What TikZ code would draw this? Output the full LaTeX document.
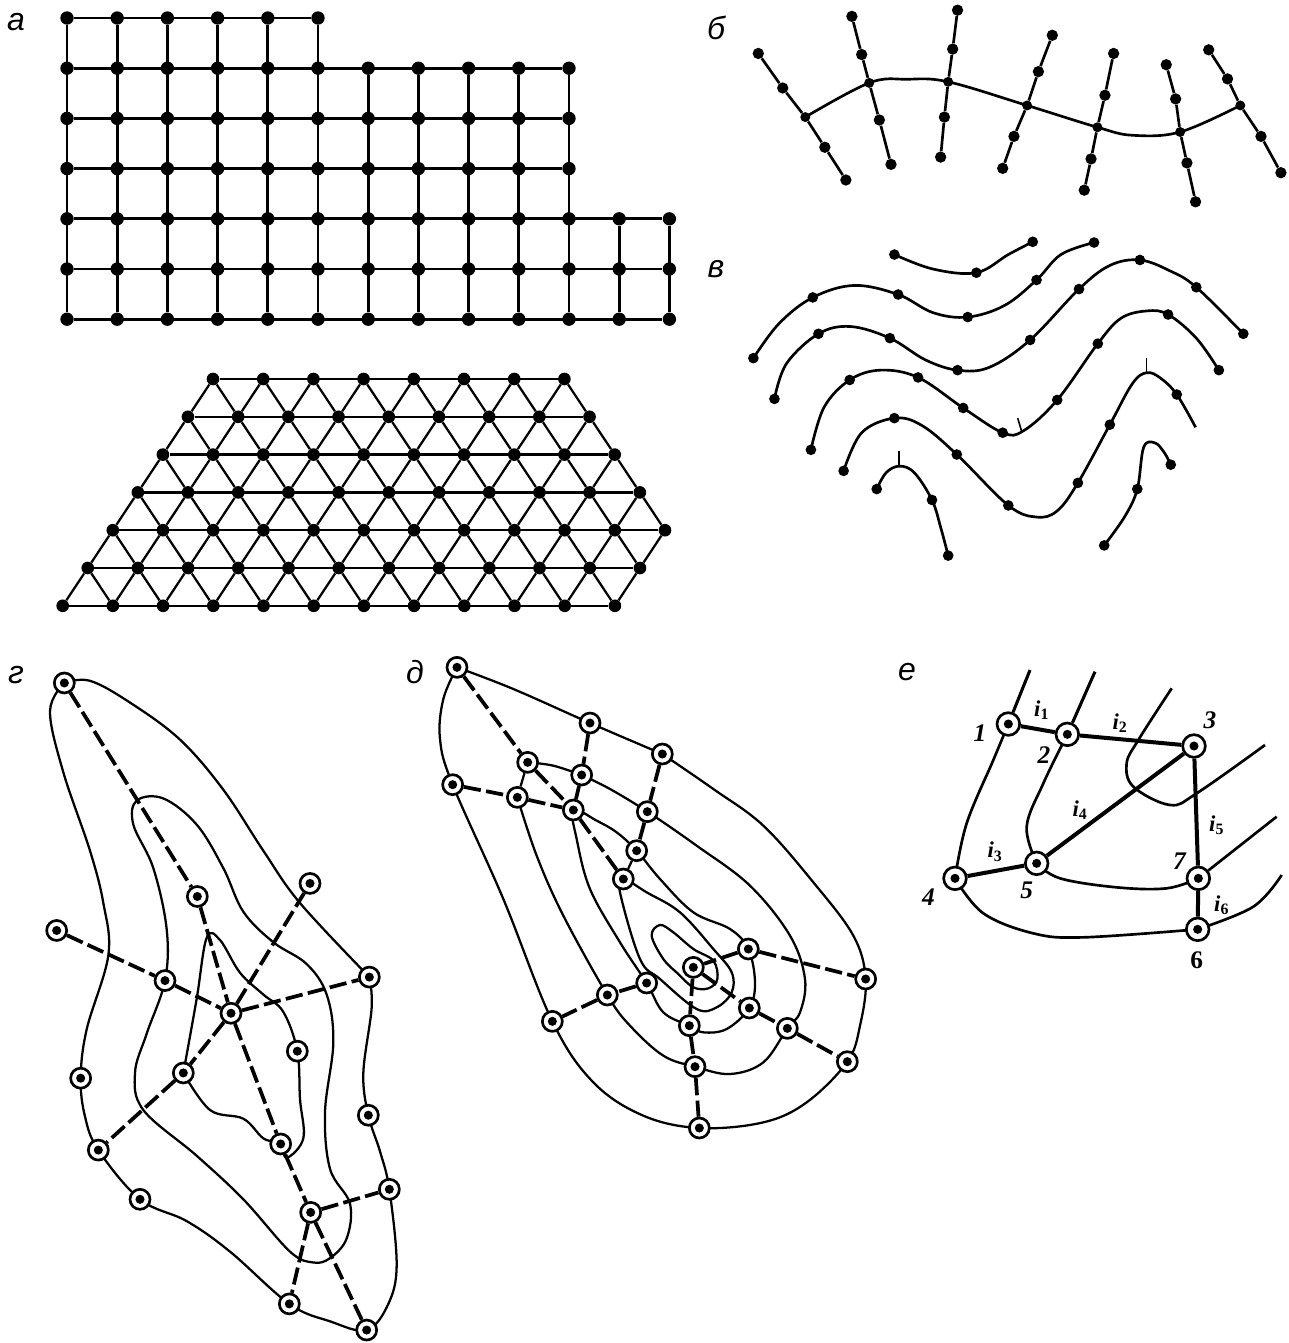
\documentclass[tikz,border=0pt]{standalone}
\usepackage{fontspec}
\setmainfont{Liberation Sans}
\newfontfamily\lblserif{Liberation Serif}
\usetikzlibrary{backgrounds}
\tikzset{
  griddot/.style={circle,fill=black,inner sep=0pt,minimum size=10pt},
  tridot/.style={circle,fill=black,inner sep=0pt,minimum size=9.5pt},
  chaindot/.style={circle,fill=black,inner sep=0pt,minimum size=8.5pt},
  crossdot/.style={circle,fill=black,inner sep=0pt,minimum size=7.5pt},
  curvedot/.style={circle,fill=black,inner sep=0pt,minimum size=8pt},
  gridline/.style={line width=2.1pt},
  triline/.style={line width=1.7pt},
  chainline/.style={line width=2pt},
  thinc/.style={line width=1.7pt,line join=round},
  dashl/.style={line width=2.8pt,dash pattern=on 13pt off 4pt},
  thickl/.style={line width=3pt},
  ring/.style={circle,draw=black,fill=white,line width=2pt,inner sep=0pt,minimum size=15pt,
    path picture={\fill[black] (path picture bounding box.center) circle (3.4pt);}},
  bigring/.style={ring,minimum size=17pt},
  panel/.style={font=\itshape\fontsize{24}{26}\selectfont,inner sep=0pt},
  numl/.style={font=\lblserif\bfseries\itshape\fontsize{19}{21}\selectfont,inner sep=0pt},
  numu/.style={font=\lblserif\bfseries\fontsize{19}{21}\selectfont,inner sep=0pt},
  curl/.style={font=\lblserif\bfseries\itshape\fontsize{17}{19}\selectfont,inner sep=0pt},
}
\begin{document}
\begin{tikzpicture}[x=0.75pt,y=-0.75pt]
\path[use as bounding box] (0,0) rectangle (1289,1343);

% panel labels
\node[panel] (la) at (16,22) {а};
\node[panel] (lb) at (716,28) {б};
\node[panel] (lv) at (716,269) {в};
\node[panel] (lg) at (16,675) {г};
\node[panel] (ld) at (415,672) {д};
\node[panel] (le) at (907,672) {е};

% а: square grid
\foreach \r/\n in {0/5,1/10,2/10,3/10,4/12,5/12,6/12}{
  \foreach \c in {0,...,\n}{
    \node[griddot] (g\c-\r) at ({67+50.2*\c},{18+50.2*\r}) {};
  }
  \draw[gridline] (g0-\r) -- (g\n-\r);
}
\foreach \c/\s in {0/0,1/0,2/0,3/0,4/0,5/0,6/1,7/1,8/1,9/1,10/1,11/4,12/4}{
  \draw[gridline] (g\c-\s) -- (g\c-6);
}

% а: triangular grid
\foreach \r/\n in {0/7,1/8,2/9,3/10,4/11,5/11,6/11}{
  \foreach \c in {0,...,\n}{
    \node[tridot] (t\c-\r) at ({213-25.05*\r+50.2*\c},{379+37.8*\r}) {};
  }
  \draw[triline] (t0-\r) -- (t\n-\r);
}
\foreach \r/\n/\m in {0/7/8,1/8/9,2/9/10,3/10/11,4/11/11,5/11/11}{
  \foreach \c in {0,...,\n}{
    \pgfmathtruncatemacro\rr{\r+1}
    \pgfmathtruncatemacro\cc{\c+1}
    \draw[triline] (t\c-\r) -- (t\c-\rr);
    \ifnum\cc>\m\else\draw[triline] (t\c-\r) -- (t\cc-\rr);\fi
  }
}

% б and в
\begin{scope}[shift={(700,0)},x=0.282pt,y=-0.2727pt]
  \foreach \i/\xa/\ya/\xb/\yb/\xc/\yc/\xd/\yd/\xe/\ye in {
    1/155/147/220/242/280/322/332/405/388/495,
    2/404/45/430/150/450/228/477/330/508/452,
    3/685/28/672/135/660/225/650/322/640/432,
    4/937/97/900/197/870/290/835/375/805/463,
    5/1100/147/1077/262/1057/350/1040/437/1022/523,
    6/1240/178/1265/272/1277/363/1295/448/1318/555,
    7/1353/137/1403/217/1437/290/1492/375/1545/475}{
    \node[chaindot] (b\i-1) at (\xa,\ya) {};
    \node[chaindot] (b\i-2) at (\xb,\yb) {};
    \node[crossdot] (b\i-3) at (\xc,\yc) {};
    \node[chaindot] (b\i-4) at (\xd,\yd) {};
    \node[chaindot] (b\i-5) at (\xe,\ye) {};
    \draw[chainline] (b\i-1) -- (b\i-2) -- (b\i-3) -- (b\i-4) -- (b\i-5);
  }
  \begin{pgfonlayer}{background}
  \draw[chainline] plot[smooth,tension=0.6] coordinates {(b1-3) (b2-3) (550,218) (b3-3) (b4-3) (b5-3) (1150,372) (b6-3) (b7-3)};
  \end{pgfonlayer}

  \draw[chainline] plot[smooth,tension=0.6] coordinates {(517,700) (620,740) (735,750) (820,700) (885,665)};
  \foreach \x/\y [count=\k] in {517/700,735/750,885/665} \node[curvedot] (vA\k) at (\x,\y) {};

  \draw[chainline] plot[smooth,tension=0.6] coordinates {(142,985) (210,890) (300,818) (410,785) (527,810) (620,860) (712,872) (810,840) (895,770) (960,700) (1048,667)};
  \foreach \x/\y [count=\k] in {142/985,300/818,527/810,712/872,895/770,1048/667} \node[curvedot] (vB\k) at (\x,\y) {};

  \draw[chainline] plot[smooth,tension=0.6] coordinates {(198,1097) (230,1000) (315,918) (400,898) (505,930) (600,990) (685,1018) (770,1010) (878,935) (1008,795) (1090,730) (1170,715) (1250,745) (1320,790) (1445,918)};
  \foreach \x/\y [count=\k] in {198/1097,315/918,505/930,685/1018,878/935,1008/795,1170/715,1320/790,1445/918} \node[curvedot] (vC\k) at (\x,\y) {};

  \draw[chainline] plot[smooth,tension=0.6] coordinates {(295,1237) (330,1120) (398,1045) (480,1018) (580,1038) (700,1122) (805,1190) (860,1185) (950,1100) (1058,945) (1120,875) (1190,855) (1245,865) (1320,930) (1380,1018)};
  \foreach \x/\y [count=\k] in {295/1237,398/1045,580/1038,700/1122,805/1190,950/1100,1058/945,1245/865,1380/1018} \node[curvedot] (vD\k) at (\x,\y) {};

  \draw[chainline] plot[smooth,tension=0.6] coordinates {(382,1295) (430,1190) (517,1150) (590,1170) (683,1250) (820,1390) (895,1422) (950,1405) (1005,1328) (1090,1168) (1150,1055) (1188,1025) (1225,1040) (1268,1085) (1318,1175)};
  \foreach \x/\y [count=\k] in {382/1295,517/1150,683/1250,820/1390,1005/1328,1090/1168,1268/1085} \node[curvedot] (vE\k) at (\x,\y) {};

  \draw[chainline] plot[smooth,tension=0.6] coordinates {(470,1345) (495,1300) (530,1282) (570,1300) (617,1375) (640,1450) (660,1528)};
  \foreach \x/\y [count=\k] in {470/1345,617/1375,660/1528} \node[curvedot] (vF\k) at (\x,\y) {};

  \draw[chainline] plot[smooth,tension=0.6] coordinates {(1075,1500) (1130,1420) (1163,1345) (1180,1230) (1210,1218) (1235,1245) (1252,1278)};
  \foreach \x/\y [count=\k] in {1075/1500,1163/1345,1252/1278} \node[curvedot] (vG\k) at (\x,\y) {};

  \draw[line width=1.2pt] (1188,1025) -- (1188,985);
  \draw[line width=1.2pt] (855,1185) -- (845,1150);
  \draw[line width=1.2pt] (530,1282) -- (530,1240);
\end{scope}

% г
\begin{scope}[shift={(30,659)},x=0.25pt,y=-0.3268pt]
  \foreach \n/\x/\y in {A/103/55,B/840/515,C/80/623,D/502/545,E/1018/730,F/405/738,G/603/813,H/802/900,I/152/962,J/460/950,K/1015/1047,L/205/1127,M/752/1113,N/330/1240,O/1078/1217,P/842/1270,Q/778/1480,R/1010/1540}{
    \node[ring] (\n) at (\x,\y) {};
  }
  \begin{pgfonlayer}{background}
  \draw[dashl] (A) -- (D);
  \draw[dashl] (D) -- (G);
  \draw[dashl] (G) -- (M);
  \draw[dashl] (M) -- (P);
  \draw[dashl] (P) -- (R);
  \draw[dashl] (P) -- (Q);
  \draw[dashl] (P) -- (O);
  \draw[dashl] (C) -- (F);
  \draw[dashl] (F) -- (G);
  \draw[dashl] (G) -- (E);
  \draw[dashl] (G) -- (B);
  \draw[dashl] (G) -- (J);
  \draw[dashl] (J) -- (L);
  \draw[thinc] plot[smooth,tension=0.6] coordinates {(A) (180,50) (300,100) (450,185) (580,300) (700,440) (810,560) (E)};
  \draw[thinc] plot[smooth,tension=0.6] coordinates {(E) (1025,800) (1000,950) (K) (1050,1130) (O) (1100,1390) (1075,1480) (R) (900,1520) (Q) (600,1360) (470,1290) (N) (L) (165,1050) (I) (170,850) (235,680) (220,560) (180,440) (100,260) (60,120) (A)};
  \draw[thinc] plot[smooth cycle,tension=0.6] coordinates {(320,325) (400,320) (500,380) (580,480) (640,580) (730,650) (830,700) (890,770) (910,880) (885,1040) (900,1170) (960,1250) (950,1330) (900,1375) (850,1385) (780,1360) (640,1240) (500,1140) (340,1035) (315,950) (350,860) (F) (410,620) (370,480) (310,380)};
  \draw[thinc] plot[smooth,tension=0.6] coordinates {(J) (500,780) (530,640) (570,645) (630,720) (700,770) (760,810) (H) (810,1010) (820,1100) (770,1145) (M) (700,1100) (640,1055) (540,1035) (J)};
  \end{pgfonlayer}
\end{scope}

% д
\begin{scope}[shift={(430,649)},x=0.25pt,y=-0.25pt]
  \foreach \n/\x/\y in {da/81/55,db/480/222,dc/697/315,dd/293/340,de/455/378,df/68/407,dg/262/445,dh/430/483,di/652/488,dj/620/605,dk/580/690,dl/955/900,dm/790/955,dn/650/1002,do/532/1038,dp/1307/990,dq/367/1117,dr/958/1077,ds/778/1130,dt/1072/1138,du/1252/1238,dv/795/1253,dw/808/1437}{
    \node[ring] (\n) at (\x,\y) {};
  }
  \begin{pgfonlayer}{background}
  \draw[dashl] (da) -- (dd);
  \draw[dashl] (dd) -- (dh);
  \draw[dashl] (dh) -- (dk);
  \draw[dashl] (db) -- (de);
  \draw[dashl] (de) -- (dh);
  \draw[dashl] (dc) -- (di);
  \draw[dashl] (di) -- (dj);
  \draw[thinc] (dj) -- (dk);
  \draw[thinc] (dd) -- (dg);
  \draw[dashl] (df) -- (dg);
  \draw[dashl] (dg) -- (dh);
  \draw[dashl] (dl) -- (dp);
  \draw[dashl] (dl) -- (dm);
  \draw[dashl] (dm) -- (ds);
  \draw[dashl] (ds) -- (dv);
  \draw[dashl] (dv) -- (dw);
  \draw[dashl] (dm) -- (dr);
  \draw[dashl] (dr) -- (dt);
  \draw[dashl] (dt) -- (du);
  \draw[dashl] (dn) -- (do);
  \draw[dashl] (do) -- (dq);
  \draw[thinc] plot[smooth,tension=0.6] coordinates {(da) (250,120) (db) (dc)};
  \draw[thinc] plot[smooth,tension=0.6] coordinates {(dc) (850,420) (1000,530) (1150,700) (1270,860) (dp) (1290,1130) (du) (1130,1360) (1000,1420) (dw) (640,1400) (490,1300) (dq) (220,750) (df) (30,270) (40,150) (da)};
  \draw[thinc] plot[smooth,tension=0.6] coordinates {(dd) (370,350) (de)};
  \draw[thinc] plot[smooth,tension=0.6] coordinates {(de) (540,420) (di) (800,590) (960,710) (1080,860) (1125,990) (1110,1090) (dt) (1000,1240) (900,1275) (dv) (700,1220) (600,1130) (do) (400,800) (320,620) (dg)};
  \draw[thinc] plot[smooth cycle,tension=0.6] coordinates {(dh) (500,515) (560,550) (dj) (690,690) (790,790) (900,840) (dl) (975,1000) (dr) (890,1140) (820,1150) (ds) (700,1090) (dn) (570,880) (480,720) (440,570)};
  \draw[thinc] plot[smooth cycle,tension=0.6] coordinates {(dk) (650,730) (750,790) (850,900) (905,970) (905,1030) (860,1075) (800,1080) (690,990) (630,930) (570,730)};
  \draw[thinc] plot[smooth cycle,tension=0.6] coordinates {(690,828) (730,850) (790,900) (850,935) (862,990) (835,1018) (790,1015) (745,975) (700,930) (665,860)};
  \end{pgfonlayer}
\end{scope}

% е
\begin{scope}[shift={(900,650)},x=0.25pt,y=-0.25pt]
  \foreach \n/\x/\y in {e1/325/222,e2/502/253,e3/882/288,e4/165/685,e5/410/640,e7/895/685,e6/893/838}{
    \node[bigring] (\n) at (\x,\y) {};
  }
  \coordinate (f1) at (390,60);
  \coordinate (f2) at (585,65);
  \coordinate (f3) at (815,115);
  \coordinate (f4) at (1095,285);
  \coordinate (f5) at (1130,500);
  \coordinate (f6) at (1145,675);
  \begin{pgfonlayer}{background}
  \draw[thickl] (e1) -- (e2) -- (e3);
  \draw[thickl] (e3) -- (e5) -- (e4);
  \draw[thickl] (e3) -- (e7) -- (e6);
  \draw[line width=2.3pt] (f1) -- (e1);
  \draw[line width=2.3pt] (f2) -- (e2);
  \draw[chainline] plot[smooth,tension=0.6] coordinates {(e1) (280,330) (200,520) (e4)};
  \draw[chainline] plot[smooth,tension=0.6] coordinates {(e2) (430,400) (380,530) (e5)};
  \draw[chainline] plot[smooth,tension=0.6] coordinates {(e5) (480,685) (650,712) (800,715) (e7)};
  \draw[chainline] plot[smooth,tension=0.6] coordinates {(e4) (250,790) (400,850) (550,862) (e6)};
  \draw[chainline] plot[smooth,tension=0.6] coordinates {(f3) (715,270) (680,340) (700,410) (810,465) (890,430) (f4)};
  \draw[chainline] (e7) -- (f5);
  \draw[chainline] plot[smooth,tension=0.6] coordinates {(e6) (1060,770) (f6)};
  \end{pgfonlayer}
  \node[numl] (n1) at (240,250) {1};
  \node[numl] (n2) at (432,315) {2};
  \node[numl] (n3) at (930,212) {3};
  \node[numl] (n4) at (85,742) {4};
  \node[numl] (n5) at (380,720) {5};
  \node[numl] (n7) at (838,635) {7};
  \node[numu] (n6) at (890,930) {6};
  \node[curl] (i1) at (425,180) {i\textsubscript{\upshape 1}};
  \node[curl] (i2) at (660,220) {i\textsubscript{\upshape 2}};
  \node[curl] (i3) at (285,605) {i\textsubscript{\upshape 3}};
  \node[curl] (i4) at (540,480) {i\textsubscript{\upshape 4}};
  \node[curl] (i5) at (950,525) {i\textsubscript{\upshape 5}};
  \node[curl] (i6) at (965,765) {i\textsubscript{\upshape 6}};
\end{scope}
\end{tikzpicture}
\end{document}
